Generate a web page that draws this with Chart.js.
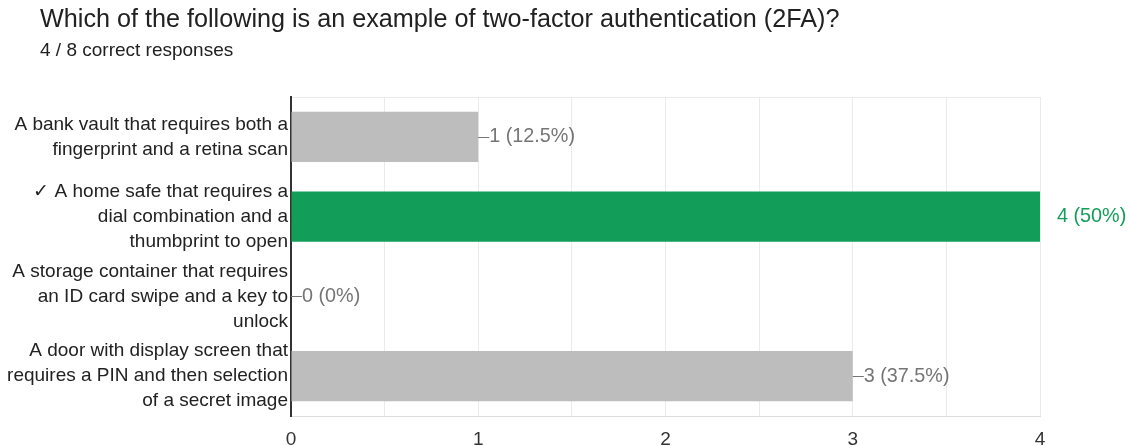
<!DOCTYPE html>
<html lang="en">
<head>
<meta charset="UTF-8">
<title>2FA question responses</title>
<script src="https://cdn.jsdelivr.net/npm/chart.js"></script>
<style>
  body { margin: 0; background: #fff; font-family: "Liberation Sans", Arial, sans-serif; }
  #wrap { position: relative; width: 1130px; height: 446px; overflow: hidden; }
  #title { position: absolute; left: 40px; top: 6px; font-size: 25.2px; line-height: 25px; color: #212121; white-space: nowrap; }
  #subtitle { position: absolute; left: 40px; top: 40px; font-size: 19px; line-height: 19px; color: #212121; white-space: nowrap; }
  #answers { position: absolute; left: 0; top: 0; }
</style>
</head>
<body>
<div id="wrap">
  <canvas id="answers" width="1130" height="446"></canvas>
  <div id="title">Which of the following is an example of two-factor authentication (2FA)?</div>
  <div id="subtitle">4 / 8 correct responses</div>
</div>

<script>
// answers as shown on the axis (one line per array item)
var categories = [
  ['A bank vault that requires both a', 'fingerprint and a retina scan'],
  ['\u2713 A home safe that requires a', 'dial combination and a', 'thumbprint to open'],
  ['A storage container that requires', 'an ID card swipe and a key to', 'unlock'],
  ['A door with display screen that', 'requires a PIN and then selection', 'of a secret image']
];
var counts = [1, 4, 0, 3];
var percents = ['12.5%', '50%', '0%', '37.5%'];
var correctIndex = 1;
var xTicks = [0, 1, 2, 3, 4];

var green = '#129e58';
var grey = '#bdbdbd';
var labelGrey = '#757575';
var fontFamily = '"Liberation Sans", Arial, sans-serif';

// draws "—n (p%)" next to every bar
var valueLabels = {
  id: 'valueLabels',
  afterDatasetsDraw: function (chart) {
    var ctx = chart.ctx;
    var bars = chart.getDatasetMeta(0).data;
    ctx.save();
    ctx.font = '19.8px ' + fontFamily;
    ctx.textBaseline = 'middle';
    ctx.textAlign = 'left';
    bars.forEach(function (bar, i) {
      var txt = counts[i] + ' (' + percents[i] + ')';
      if (i === correctIndex) {
        ctx.fillStyle = green;
        ctx.fillText(txt, bar.x + 17, bar.y);
      } else {
        ctx.strokeStyle = labelGrey;
        ctx.lineWidth = 1;
        ctx.beginPath();
        ctx.moveTo(bar.x, Math.round(bar.y) + 0.5);
        ctx.lineTo(bar.x + 11, Math.round(bar.y) + 0.5);
        ctx.stroke();
        ctx.fillStyle = labelGrey;
        ctx.fillText(txt, bar.x + 11, bar.y);
      }
    });
    ctx.restore();
  }
};

var chart = new Chart(document.getElementById('answers'), {
  type: 'bar',
  data: {
    labels: categories,
    datasets: [{
      data: counts,
      backgroundColor: counts.map(function (v, i) { return i === correctIndex ? green : grey; }),
      barPercentage: 0.63,
      categoryPercentage: 1
    }]
  },
  options: {
    indexAxis: 'y',
    responsive: false,
    animation: false,
    layout: { padding: { top: 97, right: 90, left: 0, bottom: 0 } },
    plugins: { legend: { display: false }, tooltip: { enabled: false } },
    scales: {
      x: {
        min: 0,
        max: 4,
        ticks: {
          stepSize: 0.5,
          autoSkip: false,
          maxRotation: 0,
          padding: 12,
          color: '#333',
          font: { family: fontFamily, size: 19 },
          callback: function (v) { return xTicks.indexOf(v) >= 0 ? String(v) : ''; }
        },
        grid: { color: '#ebebeb', drawTicks: false },
        border: { color: '#dcdcdc' },
        afterFit: function (s) { s.height = 30; }
      },
      xTop: {
        position: 'top',
        min: 0,
        max: 4,
        ticks: { display: false },
        grid: { display: false, drawTicks: false },
        border: { color: '#ebebeb' },
        afterFit: function (s) { s.height = 0; }
      },
      y: {
        ticks: {
          padding: 3,
          color: '#222',
          font: { family: fontFamily, size: 19, lineHeight: 25 / 19 }
        },
        grid: { display: false, drawTicks: false },
        border: { color: '#333', width: 2 },
        afterFit: function (s) { s.width = 291; }
      }
    }
  },
  plugins: [valueLabels]
});
</script>
</body>
</html>
